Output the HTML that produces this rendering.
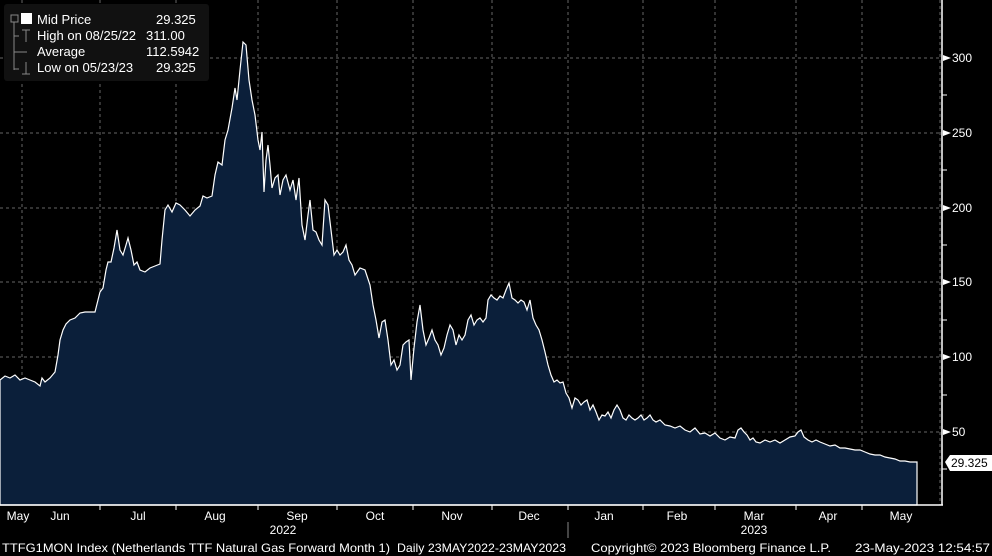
<!DOCTYPE html>
<html><head><style>
body{margin:0;background:#000;width:992px;height:556px;overflow:hidden;font-family:"Liberation Sans",sans-serif;}
</style></head><body>
<svg width="992" height="556" xmlns="http://www.w3.org/2000/svg" style="position:absolute;left:0;top:0">
<g stroke="#666" stroke-dasharray="3,3" stroke-width="1">
<line x1="0" y1="58" x2="942" y2="58"/><line x1="0" y1="133" x2="942" y2="133"/><line x1="0" y1="208" x2="942" y2="208"/><line x1="0" y1="282" x2="942" y2="282"/><line x1="0" y1="357" x2="942" y2="357"/><line x1="0" y1="432" x2="942" y2="432"/>
<line x1="22" y1="0" x2="22" y2="505"/><line x1="100" y1="0" x2="100" y2="505"/><line x1="176" y1="0" x2="176" y2="505"/><line x1="258" y1="0" x2="258" y2="505"/><line x1="337" y1="0" x2="337" y2="505"/><line x1="413" y1="0" x2="413" y2="505"/><line x1="492" y1="0" x2="492" y2="505"/><line x1="568" y1="0" x2="568" y2="505"/><line x1="643" y1="0" x2="643" y2="505"/><line x1="715" y1="0" x2="715" y2="505"/><line x1="796" y1="0" x2="796" y2="505"/><line x1="862" y1="0" x2="862" y2="505"/><line x1="940" y1="0" x2="940" y2="505"/>
</g>
<polygon fill="#0b1f3a" stroke="#fff" stroke-width="1.2" points="0,505 0,380 5,376 10,378 15,375 20,380 25,378 30,380 35,382 40,386 42,378 45,382 50,378 55,372 58,355 60,340 63,330 66,324 70,320 75,318 80,313 85,312 90,312 95,312 98,300 100,292 103,288 106,270 108,262 111,262 114,248 117,230 120,250 123,255 126,245 128,238 131,250 134,265 137,262 140,270 145,272 150,268 155,266 160,264 162,240 165,210 168,205 172,212 176,203 180,205 185,210 190,216 195,210 200,206 203,196 207,198 212,196 215,175 218,162 222,165 225,140 228,130 232,108 235,88 237,100 240,70 243,42 246,45 249,80 252,100 255,115 258,140 260,150 262,132 264,192 266,160 268,145 270,165 272,188 275,178 278,175 280,195 283,180 286,175 290,190 293,180 296,200 299,178 302,225 305,240 308,215 310,200 313,230 316,232 319,240 322,245 325,200 328,205 331,230 334,255 337,250 340,255 343,252 346,245 349,260 352,265 355,275 360,268 365,270 370,285 373,305 376,320 379,338 382,322 385,320 388,340 391,365 394,360 397,370 400,365 403,345 406,342 409,340 411,380 414,348 417,322 420,305 423,330 426,345 429,338 432,330 435,340 438,345 441,355 444,348 447,335 450,325 453,330 456,345 459,335 462,340 465,335 468,320 471,315 474,325 477,320 480,318 483,322 486,318 488,300 491,295 494,298 497,300 500,296 503,298 506,290 509,283 512,298 515,300 518,303 521,300 524,302 527,310 530,300 533,318 536,325 539,330 542,340 545,352 548,365 551,375 554,382 557,380 560,383 563,382 566,393 569,398 572,408 575,398 578,400 581,405 584,402 587,400 590,410 593,405 596,412 599,420 602,415 605,416 608,412 611,418 614,410 617,405 620,410 623,418 626,420 629,415 632,418 635,420 638,418 641,415 644,420 647,418 650,415 653,420 656,422 660,420 665,425 670,426 675,428 680,426 685,430 690,432 695,428 700,434 705,433 710,436 715,433 720,438 725,440 730,437 735,438 738,430 741,428 744,432 747,435 750,440 753,438 756,442 760,443 765,440 770,442 775,440 780,443 785,440 790,437 795,436 798,432 801,430 804,437 808,440 812,442 816,440 820,442 825,444 830,446 835,445 840,448 845,448 850,449 855,450 860,450 865,452 870,454 875,455 880,455 885,457 890,458 895,459 900,461 905,461 910,462 917,462 917,505"/>
<line x1="0" y1="505" x2="943" y2="505" stroke="#fff" stroke-width="1.5"/>
<line x1="942" y1="0" x2="942" y2="505" stroke="#fff" stroke-width="1.5"/>
<g stroke="#fff"><line x1="942" y1="95" x2="947" y2="95"/><line x1="942" y1="170" x2="947" y2="170"/><line x1="942" y1="245" x2="947" y2="245"/><line x1="942" y1="320" x2="947" y2="320"/><line x1="942" y1="395" x2="947" y2="395"/><line x1="942" y1="469" x2="947" y2="469"/></g>
<g fill="#fff"><polygon points="943,55 951,58 943,61"/><polygon points="943,130 951,133 943,136"/><polygon points="943,205 951,208 943,211"/><polygon points="943,279 951,282 943,285"/><polygon points="943,354 951,357 943,360"/><polygon points="943,429 951,432 943,435"/></g>
<g fill="#fff" font-size="12" font-family="Liberation Sans,sans-serif">
<text x="952" y="62">300</text><text x="952" y="137">250</text><text x="952" y="212">200</text><text x="952" y="286">150</text><text x="952" y="361">100</text><text x="952" y="436">50</text>
</g>
<polygon points="945,462 950,455 992,455 992,471 950,471" fill="#fff"/>
<text x="951" y="467" font-size="12" fill="#000">29.325</text>
<g fill="#fff" font-size="12" text-anchor="middle">
<text x="18" y="520">May</text><text x="60" y="520">Jun</text><text x="138" y="520">Jul</text><text x="215" y="520">Aug</text><text x="297" y="520">Sep</text><text x="375" y="520">Oct</text><text x="452" y="520">Nov</text><text x="529" y="520">Dec</text><text x="604" y="520">Jan</text><text x="677" y="520">Feb</text><text x="754" y="520">Mar</text><text x="828" y="520">Apr</text><text x="901" y="520">May</text>
<text x="283" y="534">2022</text><text x="754" y="534">2023</text>
</g>
<g stroke="#fff"><line x1="100" y1="505" x2="100" y2="510"/><line x1="176" y1="505" x2="176" y2="510"/><line x1="258" y1="505" x2="258" y2="510"/><line x1="337" y1="505" x2="337" y2="510"/><line x1="413" y1="505" x2="413" y2="510"/><line x1="492" y1="505" x2="492" y2="510"/><line x1="568" y1="505" x2="568" y2="510"/><line x1="643" y1="505" x2="643" y2="510"/><line x1="715" y1="505" x2="715" y2="510"/><line x1="796" y1="505" x2="796" y2="510"/><line x1="862" y1="505" x2="862" y2="510"/><line x1="568" y1="522" x2="568" y2="538" stroke="#888"/></g>
<g fill="#fff" font-size="12">
<text x="2" y="552" textLength="388" lengthAdjust="spacingAndGlyphs">TTFG1MON Index (Netherlands TTF Natural Gas Forward Month 1)</text>
<text x="397" y="552" textLength="169" lengthAdjust="spacingAndGlyphs">Daily 23MAY2022-23MAY2023</text>
<text x="591" y="552" textLength="240" lengthAdjust="spacingAndGlyphs">Copyright© 2023 Bloomberg Finance L.P.</text>
<text x="855" y="552" textLength="135" lengthAdjust="spacingAndGlyphs">23-May-2023 12:54:57</text>
</g>
<rect x="4" y="4" width="205" height="77" rx="3" fill="#111"/>
<g stroke="#888" fill="none"><rect x="11" y="15" width="7" height="7"/><line x1="14" y1="22" x2="14" y2="70"/><line x1="14" y1="36" x2="19" y2="36"/><line x1="14" y1="52" x2="27" y2="52"/><line x1="14" y1="69" x2="19" y2="69"/><line x1="26" y1="30" x2="26" y2="42"/><line x1="22" y1="30" x2="30" y2="30"/><line x1="26" y1="62" x2="26" y2="74"/><line x1="22" y1="74" x2="30" y2="74"/></g>
<rect x="21" y="13" width="11" height="11" fill="#fff"/>
<g fill="#fff" font-size="13">
<text x="37" y="24">Mid Price</text><text x="156" y="24">29.325</text>
<text x="37" y="40">High on 08/25/22</text><text x="146" y="40">311.00</text>
<text x="37" y="56">Average</text><text x="146" y="56">112.5942</text>
<text x="37" y="72">Low on 05/23/23</text><text x="156" y="72">29.325</text>
</g>
</svg>
</body></html>
